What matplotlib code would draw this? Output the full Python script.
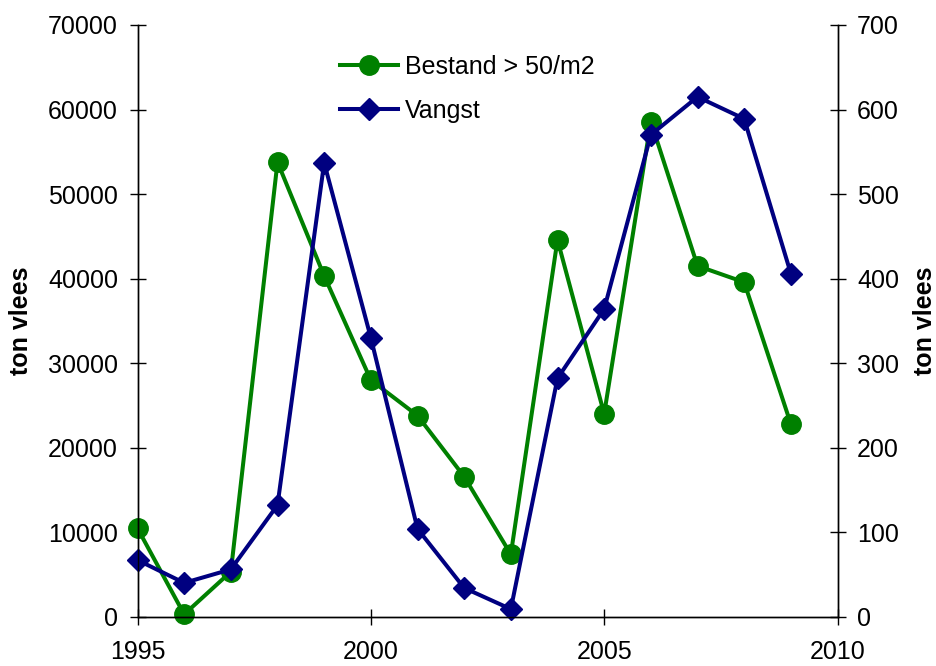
import matplotlib
matplotlib.use("Agg")
import matplotlib.pyplot as plt

years = [1995, 1996, 1997, 1998, 1999, 2000, 2001, 2002, 2003, 2004, 2005, 2006, 2007, 2008, 2009]
bestand = [10460, 280, 5320, 53780, 40320, 28000, 23790, 16570, 7380, 44580, 23990, 58580, 41500, 39570, 22800]
vangst = [67, 40, 56, 132, 537, 330, 104, 34, 9, 282, 364, 570, 615, 589, 406]

x_ticks = [1995, 2000, 2005, 2010]
left_ticks = [0, 10000, 20000, 30000, 40000, 50000, 60000, 70000]
right_ticks = [0, 100, 200, 300, 400, 500, 600, 700]

plt.rcParams['font.family'] = ['Liberation Sans', 'DejaVu Sans']

GREEN = '#008000'
NAVY = '#000080'
FS = 18

fig = plt.figure(figsize=(9.36, 6.66), dpi=100)
ax = fig.add_axes([137.5/936, (666-616.7)/666, 700/936, (616.7-25)/666])
ax2 = ax.twinx()

l1, = ax.plot(years, bestand, color=GREEN, lw=2.9, marker='o', ms=14,
              label='Bestand > 50/m2', solid_joinstyle='miter', clip_on=False)
l2, = ax2.plot(years, vangst, color=NAVY, lw=2.9, marker='D', ms=11,
               label='Vangst', solid_joinstyle='miter', clip_on=False)

ax.set_xlim(1995, 2010)
ax.set_ylim(0, 70000)
ax2.set_ylim(0, 700)
ax.set_xticks(x_ticks)
ax.set_yticks(left_ticks)
ax2.set_yticks(right_ticks)

for a in (ax, ax2):
    a.spines['top'].set_visible(False)
    for s in a.spines.values():
        s.set_linewidth(1.0)
    a.tick_params(direction='inout', length=12, width=1.0, labelsize=FS, pad=8)
ax.tick_params(axis='x', pad=11)

ax.set_ylabel('ton vlees', fontsize=FS, fontweight='bold', labelpad=11)
ax2.set_ylabel('ton vlees', fontsize=FS, fontweight='bold', labelpad=10)

leg = ax2.legend(handles=[l1, l2], loc='upper left',
                 bbox_to_anchor=(340/936, 1 - 55/666), bbox_transform=fig.transFigure,
                 frameon=False, fontsize=FS, handlelength=2.3, handletextpad=0.3,
                 labelspacing=0.8, borderpad=0, borderaxespad=0)

fig.savefig('out.png', dpi=100)
